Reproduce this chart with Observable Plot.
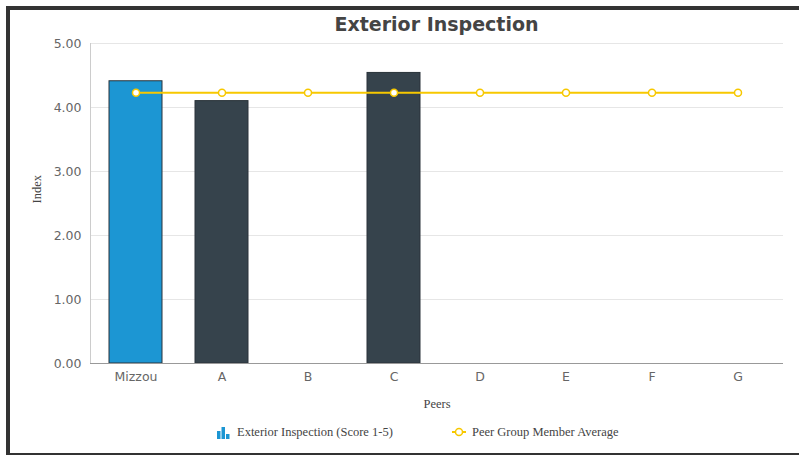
<!DOCTYPE html>
<html>
<head>
<meta charset="utf-8">
<script src="https://cdn.jsdelivr.net/npm/d3@7"></script>
<script src="https://cdn.jsdelivr.net/npm/@observablehq/plot@0.6"></script>
<style>
  html, body { margin: 0; padding: 0; background: #fff; }
  #wrap { position: relative; width: 799px; height: 455px; overflow: hidden; }
  .bd { position: absolute; background: #333; }
  #title { position: absolute; left: 90px; width: 693px; top: 13px; text-align: center;
    font: bold 19px "DejaVu Sans", Verdana, sans-serif; color: #444; }
  #legend { position: absolute; top: 423px; left: 0; width: 799px; height: 18px;
    font: 12.5px "Liberation Serif", "Times New Roman", serif; color: #444; }
  .li { position: absolute; top: 0; display: flex; align-items: center; height: 18px; }
</style>
</head>
<body>
<div id="wrap">
  <div id="chart"></div>
  <div id="title"></div>
  <div id="legend"></div>
  <div class="bd" style="left:6px;top:6px;width:793px;height:4px"></div>
  <div class="bd" style="left:6px;top:6px;width:4px;height:449px"></div>
  <div class="bd" style="left:6px;top:453px;width:793px;height:2px"></div>
</div>
<script>
const titleText = "Exterior Inspection";
const peers = ["Mizzou", "A", "B", "C", "D", "E", "F", "G"];
const scores = [4.41, 4.10, null, 4.54, null, null, null, null];
const peerAverage = [4.23, 4.23, 4.23, 4.23, 4.23, 4.23, 4.23, 4.23];
const yTicks = [0, 1, 2, 3, 4, 5];
const seriesNames = ["Exterior Inspection (Score 1-5)", "Peer Group Member Average"];
const xLabel = "Peers";
const yLabel = "Index";

const barData = peers.map((p, i) => ({peer: p, score: scores[i]})).filter(d => d.score != null);
const avgData = peers.map((p, i) => ({peer: p, avg: peerAverage[i]}));

const chart = Plot.plot({
  width: 799,
  height: 455,
  marginTop: 43,
  marginBottom: 92,
  marginLeft: 90,
  marginRight: 16,
  style: {fontFamily: "DejaVu Sans, Verdana, sans-serif", fontSize: "12.5px", color: "#666", background: "transparent"},
  x: {domain: peers, paddingInner: 0.385, paddingOuter: 0.1925, label: null},
  y: {domain: [0, 5], label: null},
  marks: [
    Plot.ruleY(yTicks.slice(1), {stroke: "#e6e6e6"}),
    Plot.frame({anchor: "left", stroke: "#ccc"}),
    Plot.barY(barData, {x: "peer", y: "score",
      fill: d => d.peer === "Mizzou" ? "#1c96d3" : "#36434c",
      stroke: "#2a333a", strokeWidth: 1}),
    Plot.ruleY([0], {stroke: "#999"}),
    Plot.line(avgData, {x: "peer", y: "avg", stroke: "#f7c800", strokeWidth: 2}),
    Plot.dot(avgData, {x: "peer", y: "avg", r: 3.5, fill: "#fff", stroke: "#f7c800", strokeWidth: 1.5}),
    Plot.axisY({ticks: yTicks, tickFormat: d3.format(".2f"), tickSize: 0, tickPadding: 9, fill: "#666", label: null}),
    Plot.axisX({tickSize: 0, tickPadding: 9, fill: "#666", label: null}),
    Plot.text([xLabel], {frameAnchor: "bottom", dy: 44, fontFamily: "Liberation Serif, Times New Roman, serif", fontSize: 12.5, fill: "#444"}),
    Plot.text([yLabel], {frameAnchor: "left", dx: -54, rotate: -90, fontFamily: "Liberation Serif, Times New Roman, serif", fontSize: 12.5, fill: "#444"})
  ]
});
document.getElementById("chart").appendChild(chart);
document.getElementById("title").textContent = titleText;

const legend = document.getElementById("legend");
legend.innerHTML = `
  <div class="li" style="left:216px">
    <svg width="16" height="14" style="margin-right:5px">
      <rect x="1" y="6" width="3.5" height="8" fill="#1c96d3"/>
      <rect x="5.5" y="2" width="3.5" height="12" fill="#1c96d3"/>
      <rect x="10" y="9" width="3.5" height="5" fill="#1c96d3"/>
    </svg><span>${seriesNames[0]}</span></div>
  <div class="li" style="left:452px">
    <svg width="14" height="14" style="margin-right:6px">
      <line x1="0" x2="14" y1="7" y2="7" stroke="#f7c800" stroke-width="2"/>
      <circle cx="7" cy="7" r="3.5" fill="#fff" stroke="#f7c800" stroke-width="1.5"/>
    </svg><span>${seriesNames[1]}</span></div>`;
</script>
</body>
</html>
